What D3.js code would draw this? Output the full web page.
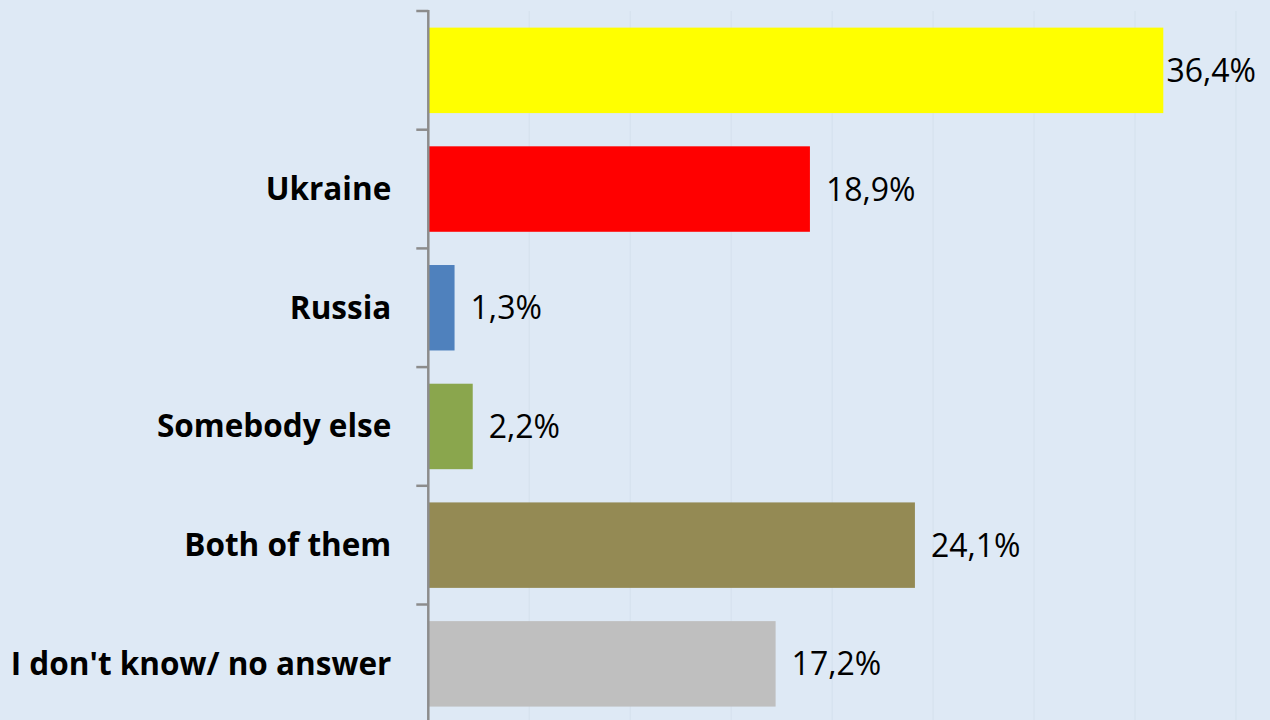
<!DOCTYPE html>
<html>
<head>
<meta charset="utf-8">
<script src="https://cdn.jsdelivr.net/npm/d3@7"></script>
<style>
  html, body { margin: 0; padding: 0; background: #dee9f5; }
  svg { display: block; }
</style>
</head>
<body>
<svg id="chart" width="1270" height="720"></svg>
<script>
const categories = ["", "Ukraine", "Russia", "Somebody else", "Both of them", "I don't know/ no answer"];
const values = [36.4, 18.9, 1.3, 2.2, 24.1, 17.2];
const valueLabels = ["36,4%", "18,9%", "1,3%", "2,2%", "24,1%", "17,2%"];
const barColors = ["#ffff00", "#ff0000", "#4f81bd", "#8aa64d", "#948a54", "#bfbfbf"];
const gridTicks = [0, 5, 10, 15, 20, 25, 30, 35, 40];

const W = 1270, H = 720;
const svg = d3.select("#chart");
svg.append("rect").attr("width", W).attr("height", H).attr("fill", "#dee9f5");

const x0 = 428.3;
const x = d3.scaleLinear().domain([0, 40]).range([x0, x0 + 100.96 * 8]);
const y = d3.scaleBand().domain(categories.map((c, i) => i)).range([11, 11 + 118.7 * 6]).paddingInner(0.28).paddingOuter(0.14);

// gridlines
svg.append("g").selectAll("line").data(gridTicks.slice(1)).join("line")
  .attr("x1", d => x(d)).attr("x2", d => x(d))
  .attr("y1", 11).attr("y2", H)
  .attr("stroke", "#d6e2ee").attr("stroke-width", 1.2);

// bars
svg.append("g").selectAll("rect").data(values).join("rect")
  .attr("x", x(0))
  .attr("y", (d, i) => y(i))
  .attr("width", d => x(d) - x(0))
  .attr("height", y.bandwidth())
  .attr("fill", (d, i) => barColors[i]);

// y axis
const yAxisScale = d3.scaleBand().domain(categories.map((c, i) => i)).range([11, 11 + 118.7 * 6]);
const axisG = svg.append("g").attr("transform", `translate(${x0},0)`);
axisG.append("line").attr("x1", 0).attr("x2", 0).attr("y1", 10).attr("y2", H)
  .attr("stroke", "#8c8c8c").attr("stroke-width", 2.5);
const tickYs = d3.range(0, 7).map(i => 11 + 118.7 * i);
axisG.selectAll("line.tick").data(tickYs).join("line").attr("class", "tick")
  .attr("x1", -12).attr("x2", 0).attr("y1", d => d).attr("y2", d => d)
  .attr("stroke", "#8c8c8c").attr("stroke-width", 2.5);

// category labels
axisG.selectAll("text").data(categories).join("text")
  .attr("x", -37)
  .attr("y", (d, i) => yAxisScale(i) + yAxisScale.bandwidth() / 2)
  .attr("dy", "0.35em")
  .attr("text-anchor", "end")
  .attr("font-family", "'Open Sans', sans-serif")
  .attr("font-weight", "bold")
  .attr("font-size", 31.5)
  .attr("fill", "#000")
  .text(d => d);

// value labels
const vl = svg.append("g").selectAll("text").data(values).join("text")
  .attr("y", (d, i) => y(i) + y.bandwidth() / 2)
  .attr("dy", "0.36em")
  .attr("font-family", "'Open Sans', sans-serif")
  .attr("font-size", 32)
  .attr("fill", "#000")
  .text((d, i) => valueLabels[i]);
vl.each(function(d) {
  const w = this.getComputedTextLength();
  const xx = Math.min(x(d) + 16, W - 14 - w);
  d3.select(this).attr("x", xx);
});
</script>
</body>
</html>
